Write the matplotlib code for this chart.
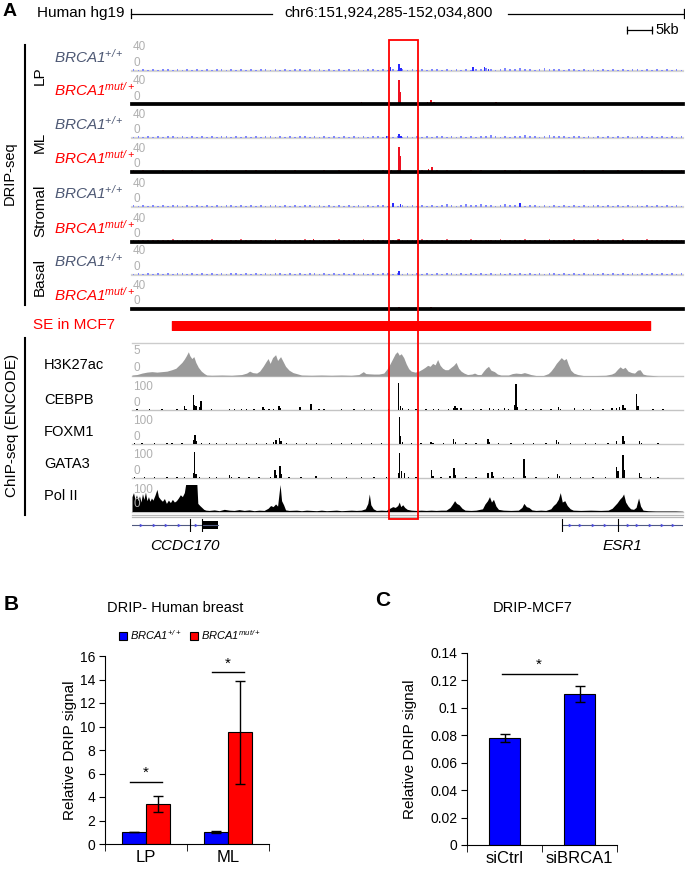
import numpy as np
import matplotlib
matplotlib.use("Agg")
import matplotlib.pyplot as plt
from matplotlib.patches import Rectangle
from matplotlib.lines import Line2D
import matplotlib.transforms as mtransforms

plt.rcParams['font.family'] = ['Liberation Sans', 'DejaVu Sans']
plt.rcParams['mathtext.fontset'] = 'custom'
plt.rcParams['mathtext.rm'] = 'Liberation Sans:italic'
plt.rcParams['mathtext.it'] = 'Liberation Sans:italic'
plt.rcParams['mathtext.bf'] = 'Liberation Sans:bold'

# ---------------- DATA ----------------
region_start, region_end = 151924285, 152034800
region_label = "chr6:151,924,285-152,034,800"
highlight_kb = [51.6, 57.3]
se_kb = [8.0, 103.8]
scale_bar_kb = [99.3, 104.3]

drip_groups = ["LP", "ML", "Stromal", "Basal"]
drip_ymax = 40

# (kb, signal) main peaks, DRIP tracks
lp_wt_peaks = [(51.8, 5), (53.6, 11), (54.0, 4), (68.4, 5), (70.7, 5), (71.5, 3)]
lp_mut_peaks = [(46.0, 3), (51.5, 3), (53.6, 38), (53.8, 20), (59.3, 4), (60.0, 7), (60.6, 4), (73.0, 3)]
ml_wt_peaks = [(51.0, 2), (53.6, 6), (54.0, 3)]
ml_mut_peaks = [(52.0, 3), (53.6, 40), (53.8, 25), (59.5, 5), (60.2, 8)]
st_wt_peaks = [(52.3, 6), (53.9, 4), (77.8, 6)]
st_mut_peaks = [(36.4, 5), (53.6, 4), (71.5, 3)]
ba_wt_peaks = [(53.6, 6)]
ba_mut_peaks = [(53.6, 3), (60.0, 3)]

# low background signal, one digit per ~1 kb bin
lp_wt_bg = "21312123121213121321213121231212132121312121312123121312121213212131212342134324321342321231213121312123121213121"
lp_mut_bg = "10201120102011021010201102011021010211020110201201020110210201102010210201120110201021102102010201102010201101020"
ml_wt_bg = "12131212312121312132121312123121213212131212131212312131212121321213121234213132432134232123121312131212312121312"
ml_mut_bg = "21210120102021120102101202110201021011020120102011020120110201202111021201102102110201120110201021020110201021012"
st_wt_bg = "21213121231212131213212131212312121321213121213121231213121212134213432432134232123121312131212312121312121312121"
st_mut_bg = "32323232423232334232324232332423232432323242323423233242323432324232343232342332423234323242323432324232343232323"
ba_wt_bg = "12121312123121213121321213121231212132121312121312123121312121213212131212121312131212312121312121312121312121212"
ba_mut_bg = "10101201020110102010201102010120101020110201010201102010102011020101020110201010201102010102011020101020110201010"

# H3K27ac signal (kb, value)
h3k27ac = [(0, 0.2), (1, 0.3), (2, 0.6), (3, 0.8), (4, 0.9), (5, 0.8), (6, 0.9), (7, 1.0), (8, 1.3),
           (8.8, 1.6), (9.4, 2.2), (10, 2.8), (10.5, 3.5), (10.9, 4.2), (11.3, 5.0), (11.6, 4.2),
           (12, 3.6), (12.4, 4.0), (12.8, 2.8), (13.3, 1.8), (13.9, 1.0), (14.5, 0.5), (15, 0.2),
           (16, 0.15), (18, 0.2), (20, 0.15), (22, 0.3), (23, 0.6), (23.6, 1.0), (24.2, 0.7), (25, 0.6),
           (25.6, 1.0), (26.3, 2.0), (26.9, 3.0), (27.3, 3.6), (27.7, 2.6), (28.2, 3.8), (28.8, 4.4),
           (29.2, 3.2), (29.8, 4.0), (30.3, 3.0), (30.8, 2.0), (31.5, 1.2), (32.3, 0.7), (33, 0.5),
           (34, 0.2), (36, 0.15), (38, 0.2), (40, 0.15), (42, 0.2), (44, 0.15), (45.5, 0.3), (46.4, 0.9),
           (46.9, 0.5), (47.6, 0.45), (48.5, 0.4), (49.5, 0.4), (50.5, 0.6), (51.2, 1.5), (51.8, 2.6),
           (52.3, 3.6), (52.8, 4.6), (53.2, 5.0), (53.6, 4.3), (54.0, 4.6), (54.5, 3.8), (55.0, 2.5),
           (55.5, 1.5), (56.0, 1.0), (56.8, 0.8), (57.5, 1.0), (58.2, 1.4), (58.8, 1.8), (59.3, 2.2),
           (59.8, 2.0), (60.3, 2.6), (60.8, 2.3), (61.3, 3.4), (61.8, 2.2), (62.3, 1.6), (62.8, 1.3),
           (63.4, 1.3), (64.0, 1.8), (64.5, 2.2), (65.0, 2.8), (65.5, 1.6), (66.0, 1.0), (66.6, 0.6),
           (67.3, 0.3), (68.2, 0.4), (68.7, 0.6), (69.3, 0.3), (70.0, 0.3), (70.5, 1.0), (71.0, 1.6),
           (71.5, 2.0), (72.0, 1.2), (72.7, 0.9), (73.3, 0.4), (74.0, 0.2), (75.5, 0.2), (76.3, 0.5),
           (77.0, 0.6), (78.0, 0.5), (78.7, 0.7), (79.4, 0.5), (80.0, 0.3), (81, 0.1), (82.5, 0.1),
           (83.5, 0.5), (84.0, 1.0), (84.6, 1.8), (85.1, 2.6), (85.6, 3.2), (86.1, 3.8), (86.6, 3.3),
           (87.1, 3.6), (87.5, 2.4), (88.0, 1.2), (88.6, 0.6), (89.4, 0.3), (90.5, 0.1), (93, 0.1),
           (95, 0.15), (96.2, 0.4), (96.8, 0.7), (97.4, 1.4), (97.9, 1.9), (98.4, 1.5), (98.9, 1.8),
           (99.5, 1.0), (100.2, 0.7), (100.8, 0.6), (101.4, 1.2), (101.9, 1.3), (102.5, 0.4),
           (103.2, 0.2), (104.5, 0.1), (105.5, 0.0)]

cebpb = [(1.0, 3), (3.5, 2), (6.0, 2), (9.0, 3), (10.5, 15), (10.8, 5), (12.3, 55), (12.5, 20), (12.8, 15),
         (13.6, 10), (13.8, 35), (14.0, 12), (16, 2), (19.5, 3), (20.5, 2), (22, 3), (23, 2), (24.5, 2),
         (26.3, 12), (26.6, 5), (27.5, 4), (28.4, 3), (29.5, 15), (29.8, 6), (33.7, 10), (35.9, 22),
         (37.5, 3), (38.5, 2), (42, 3), (44.5, 2), (46.6, 3), (48, 4), (51.5, 2), (53.5, 100), (53.8, 15),
         (54.2, 8), (55.5, 3), (57, 2), (59, 3), (60.5, 2), (61.5, 3), (63.5, 5), (64.5, 8), (64.8, 15),
         (65.2, 8), (66, 6), (68.5, 3), (70, 3), (71.7, 8), (72.5, 5), (73.5, 5), (74.7, 8), (75.5, 4),
         (76.8, 20), (77.0, 95), (77.3, 10), (79, 3), (80.5, 4), (82, 2), (84, 4), (85.5, 10), (85.9, 5),
         (88.8, 8), (90.5, 3), (92, 2), (94.5, 4), (96.3, 6), (97.2, 8), (97.8, 10), (98.5, 18),
         (98.9, 8), (101.2, 60), (101.5, 15), (104.5, 4), (106.5, 4)]
foxm1 = [(0.5, 3), (2, 2), (4.5, 2), (7, 3), (8, 2), (10, 3), (12.3, 15), (12.6, 35), (12.9, 10), (14, 3),
         (15.5, 2), (17, 3), (19, 2), (21, 3), (23, 2), (25, 3), (27, 2), (28.4, 8), (28.9, 15), (29.6, 22),
         (29.9, 10), (31, 3), (33, 3), (35, 2), (37, 3), (40, 2), (42, 3), (44, 2), (46, 2), (48, 3),
         (50, 2), (53.7, 100), (53.9, 30), (54.3, 8), (56, 3), (58, 4), (60, 8), (60.4, 4), (62.5, 3),
         (64.5, 20), (64.9, 8), (67, 3), (69, 3), (71.4, 20), (71.7, 8), (73.5, 4), (76, 3), (78.5, 3),
         (80.5, 3), (83, 3), (85.2, 15), (85.5, 6), (88, 3), (91, 3), (93, 2), (95.5, 3), (97.2, 10),
         (98.5, 28), (98.8, 10), (101.8, 10), (102.2, 5), (105.5, 2)]
gata3 = [(0.5, 3), (2.5, 4), (4.5, 3), (7, 3), (9, 3), (10.5, 3), (12.3, 20), (12.5, 100), (12.8, 15),
         (13.5, 5), (15.5, 2), (17, 3), (19.6, 10), (20, 4), (21.5, 3), (23.5, 3), (25.5, 4), (27.8, 5),
         (28.7, 30), (29.0, 10), (29.7, 45), (30.0, 15), (31.5, 3), (33.9, 5), (36.9, 6), (40, 2), (43, 3),
         (46, 3), (48.5, 3), (51, 3), (53.5, 20), (53.7, 95), (54.0, 25), (54.6, 20), (55.5, 5), (57, 3),
         (60.1, 30), (60.4, 8), (62, 3), (63.8, 8), (64.6, 38), (64.9, 10), (67, 3), (69, 3), (71.4, 20),
         (72.2, 22), (72.5, 8), (74.5, 3), (76.5, 3), (78.6, 72), (78.9, 8), (81, 3), (83.5, 3),
         (85.3, 15), (85.8, 6), (88, 3), (90, 3), (92.5, 3), (95, 3), (97.2, 40), (97.5, 25), (98.5, 88),
         (98.8, 30), (101.8, 18), (102.1, 5), (104, 3), (105.5, 3)]
polii = [(0, 55), (0.3, 70), (0.6, 45), (0.9, 62), (1.2, 40), (1.5, 58), (1.8, 35), (2.1, 66), (2.4, 45),
         (2.7, 72), (3.0, 40), (3.3, 55), (3.6, 38), (3.9, 50), (4.2, 42), (4.6, 60), (5.0, 82), (5.3, 55),
         (5.7, 45), (6.1, 38), (6.5, 48), (6.9, 30), (7.3, 42), (7.7, 33), (8.1, 45), (8.5, 35), (8.9, 40),
         (9.3, 50), (9.7, 62), (10.1, 55), (10.5, 70), (10.8, 105), (13.0, 105), (13.2, 30), (13.6, 22),
         (14.0, 15), (14.4, 8), (14.8, 5), (15.5, 4), (16.5, 6), (17.5, 3), (18.5, 8), (19.5, 5),
         (20.5, 4), (21.5, 7), (22.5, 4), (23.5, 6), (24.5, 3), (25.5, 5), (26.5, 4), (27.3, 12),
         (27.8, 22), (28.3, 18), (28.8, 28), (29.2, 20), (29.7, 100), (30.0, 40), (30.4, 25), (30.8, 6),
         (31.5, 4), (33, 5), (34, 3), (35, 5), (36, 4), (37, 3), (38, 5), (39, 3), (40, 4), (41, 5),
         (42, 3), (43, 4), (44, 5), (45, 4), (46, 5), (46.8, 10), (47.3, 30), (47.6, 65), (47.9, 25),
         (48.4, 10), (49, 4), (50, 5), (51, 4), (51.7, 12), (52.3, 18), (52.8, 15), (53.3, 22),
         (53.6, 35), (53.9, 18), (54.3, 25), (54.7, 15), (55.2, 8), (56, 5), (57, 4), (58, 5), (59, 4),
         (60, 5), (61, 4), (62, 5), (63, 5), (63.8, 15), (64.3, 28), (64.7, 40), (65.1, 30), (65.6, 25),
         (66.2, 12), (66.8, 5), (68, 4), (69, 5), (70.3, 10), (70.8, 28), (71.3, 40), (71.7, 55),
         (72.1, 35), (72.5, 45), (73, 20), (73.5, 8), (74.5, 5), (76, 4), (77.5, 5), (78.2, 15),
         (78.6, 30), (79.1, 18), (79.6, 15), (80.2, 6), (81, 4), (82, 5), (83, 4), (84, 10), (84.5, 22),
         (85, 30), (85.5, 45), (85.9, 70), (86.3, 35), (86.8, 40), (87.3, 22), (87.9, 10), (88.5, 5),
         (90, 4), (92, 5), (94, 4), (95.5, 5), (96.3, 12), (96.8, 22), (97.3, 32), (97.8, 45), (98.3, 55),
         (98.6, 65), (99, 35), (99.5, 20), (100, 10), (100.6, 8), (101.1, 15), (101.6, 50), (102, 20),
         (102.5, 5), (103.5, 3), (105, 2), (107, 2), (109, 2), (110.5, 1)]

# genes: (name, line start kb, line end kb, exon boxes, tick kb, arrow kb)
ccdc170 = dict(name="CCDC170", start=0.0, end=17.3, boxes=[(14.1, 17.3)], ticks=[11.7, 14.1],
               arrows=[1.8, 4.4, 6.8, 9.4, 12.9], label_kb=10.6)
esr1 = dict(name="ESR1", start=86.2, end=110.5, boxes=[], ticks=[86.2, 97.4],
            arrows=[87.8, 89.8, 92.4, 94.8, 99.5, 101.3, 103.9, 106.3, 108.5], label_kb=98.4)

# Panel B
groups_B = ["LP", "ML"]
wt_vals = [1.0, 1.0]
wt_err = [0.0, 0.1]
mut_vals = [3.4, 9.5]
mut_err = [0.7, 4.4]
sig_B = [5.3, 14.6]

# Panel C
groups_C = ["siCtrl", "siBRCA1"]
vals_C = [0.078, 0.110]
err_C = [0.003, 0.006]
sig_C = 0.1245

# ---------------- FIGURE ----------------
W, H = 685, 869
fig = plt.figure(figsize=(W / 100, H / 100), dpi=100)


def fx(x):
    return x / W


def fy(y):
    return 1 - y / H


def axes_px(x0, y0, x1, y1):
    return fig.add_axes([fx(x0), fy(y1), (x1 - x0) / W, (y1 - y0) / H])


def ftext(x, y, s, **kw):
    return fig.text(fx(x), fy(y), s, **kw)


def fline(xs, ys, **kw):
    fig.add_artist(Line2D([fx(v) for v in xs], [fy(v) for v in ys], transform=fig.transFigure, **kw))


region_kb = (region_end - region_start) / 1000.0
TX0, TX1 = 132, 683
GREY_LBL = '#b0b0b0'
WT_COL = '#4d5874'

# header
ftext(3, 11, "A", fontsize=14, fontweight='bold', va='center')
ftext(37, 13, "Human hg19", fontsize=11, va='center')
fline([131, 272], [13.5, 13.5], color='black', lw=0.9)
fline([131, 131], [9, 18], color='black', lw=0.9)
ftext(389, 13, region_label, fontsize=11, va='center', ha='center')
fline([508, 684], [13.5, 13.5], color='black', lw=0.9)
fline([684, 684], [9, 18], color='black', lw=0.9)

ax_sc = axes_px(TX0, 25, TX1, 35)
ax_sc.set_xlim(0, region_kb)
ax_sc.set_ylim(0, 1)
ax_sc.axis('off')
ax_sc.plot(scale_bar_kb, [0.5, 0.5], color='black', lw=0.9)
ax_sc.plot(scale_bar_kb, [0.5, 0.5], ls='none', marker='|', ms=6, color='black', mew=0.9)
ftext(655, 30, "5kb", fontsize=10.5, va='center')

# DRIP tracks
drip_tracks = [
    (lp_wt_peaks, lp_wt_bg, 'wt'), (lp_mut_peaks, lp_mut_bg, 'mut'),
    (ml_wt_peaks, ml_wt_bg, 'wt'), (ml_mut_peaks, ml_mut_bg, 'mut'),
    (st_wt_peaks, st_wt_bg, 'wt'), (st_mut_peaks, st_mut_bg, 'mut'),
    (ba_wt_peaks, ba_wt_bg, 'wt'), (ba_mut_peaks, ba_mut_bg, 'mut'),
]
drip_base = [70.5, 104, 137.7, 171.7, 206.7, 241.7, 274.5, 309]
ref_ax = None
for (peaks, bg, kind), base in zip(drip_tracks, drip_base):
    ax = axes_px(TX0, base - 28, TX1, base)
    ax.set_xlim(0, region_kb)
    ax.set_ylim(0, drip_ymax * 1.12)
    ax.axis('off')
    if ref_ax is None:
        ref_ax = ax
    col = '#2a2aff' if kind == 'wt' else '#ee1020'
    bgcol = '#7f86ff' if kind == 'wt' else '#f06070'
    bg_vals = [int(c) for c in bg]
    bg_pos = np.linspace(0.3, region_kb - 0.3, len(bg_vals))
    ax.bar(bg_pos, bg_vals, width=0.35, color=bgcol, lw=0, zorder=2)
    px_, pv_ = zip(*peaks)
    ax.bar(px_, pv_, width=0.3, color=col, lw=0, zorder=2)
    if kind == 'wt':
        ax.axhline(0, color='#d4d4d4', lw=1.6, zorder=1, clip_on=False)
        ftext(54, base - 14, "BRCA1$^{+/+}$", fontsize=11, style='italic', color=WT_COL, va='center')
    else:
        ax.axhline(0, color='black', lw=2.7, zorder=3, clip_on=False)
        ftext(54, base - 14, "BRCA1$^{mut/+}$", fontsize=11, style='italic', color='#ff0000', va='center')
    ftext(TX0 + 1, base - 23, "40", fontsize=8.5, color=GREY_LBL, va='center')
    ftext(TX0 + 2, base - 1.5, "0", fontsize=8.5, color=GREY_LBL, va='bottom')

for name, yc in zip(drip_groups, [76, 142, 211, 277]):
    ftext(40, yc, name, fontsize=11, rotation=90, ha='center', va='center')
ftext(10, 173, "DRIP-seq", fontsize=10.5, rotation=90, ha='center', va='center')
fline([25, 25], [45, 305], color='black', lw=1.5)

# Super-enhancer
ftext(33, 325, "SE in MCF7", fontsize=11, color='#ff0000', va='center')
ax_se = axes_px(TX0, 321, TX1, 329.5)
ax_se.set_xlim(0, region_kb)
ax_se.set_ylim(0, 1)
ax_se.axis('off')
ax_se.broken_barh([(se_kb[0], se_kb[1] - se_kb[0])], (0, 1), color='#ff0000')

fline([TX0, TX1], [342.7, 342.7], color='#cccccc', lw=1)

# ChIP tracks
chip_names = ["H3K27ac", "CEBPB", "FOXM1", "GATA3", "Pol II"]
chip_base = [376, 410, 444, 478, 511.5]
chip_top = [345, 381, 415, 449, 484.5]
chip_ymax = [6.4, 107, 107, 110, 100]
chip_top_lbl = ["5", "100", "100", "100", "100"]
chip_lbl_y = [365, 400, 432, 464, 496]
for i, name in enumerate(chip_names):
    ax = axes_px(TX0, chip_top[i], TX1, chip_base[i])
    ax.set_xlim(0, region_kb)
    ax.set_ylim(0, chip_ymax[i])
    ax.axis('off')
    if name == "H3K27ac":
        p, v = zip(*h3k27ac)
        ax.fill_between(p, v, 0, color='#9a9a9a', lw=0)
    elif name == "Pol II":
        p, v = zip(*polii)
        ax.fill_between(p, v, 0, color='black', lw=0)
    else:
        data = {"CEBPB": cebpb, "FOXM1": foxm1, "GATA3": gata3}[name]
        p, v = zip(*data)
        ax.bar(p, v, width=0.28, color='black', lw=0)
    ax.axhline(0, color='#c4c4c4', lw=1.0, clip_on=False, zorder=0)
    ftext(TX0 + 1, chip_top[i] + 6, chip_top_lbl[i], fontsize=8.5, color=GREY_LBL, va='center')
    ftext(TX0 + 2, chip_base[i] - 1.5, "0", fontsize=8.5, color=GREY_LBL, va='bottom')
    ftext(44, chip_lbl_y[i], name, fontsize=10.5, va='center')

ftext(12, 425, "ChIP-seq (ENCODE)", fontsize=11, rotation=90, ha='center', va='center')
fline([25, 25], [338, 515], color='black', lw=1.5)
fline([TX0, TX1], [514.5, 514.5], color='#b8b8b8', lw=0.9)
fline([TX0, TX1], [517.3, 517.3], color='#b8b8b8', lw=0.9)

# genes
ax_g = axes_px(TX0, 518, TX1, 532)
ax_g.set_xlim(0, region_kb)
ax_g.set_ylim(-1, 1)
ax_g.axis('off')
for g in (ccdc170, esr1):
    ax_g.plot([g['start'], g['end']], [0, 0], color='#505a80', lw=0.8)
    for b0, b1 in g['boxes']:
        ax_g.add_patch(Rectangle((b0, -0.55), b1 - b0, 1.1, color='black', lw=0))
    for t in g['ticks']:
        ax_g.plot([t, t], [-0.9, 0.9], color='black', lw=0.8)
    ax_g.plot(g['arrows'], [0] * len(g['arrows']), ls='none', marker='>', ms=2.5, color='#4a4ad8', mew=0)
    ax_g.text(g['label_kb'], -3.0, g['name'], fontsize=11, style='italic', ha='center', va='center',
              clip_on=False)

# highlight box
trans = mtransforms.blended_transform_factory(ref_ax.transData, fig.transFigure)
fig.add_artist(Rectangle((highlight_kb[0], fy(519)), highlight_kb[1] - highlight_kb[0], fy(40) - fy(519),
                         transform=trans, fill=False, ec='#ff0000', lw=1.3, zorder=10))

# ---------------- Panel B ----------------
ftext(4, 604, "B", fontsize=15, fontweight='bold', va='center')
ftext(175, 608, "DRIP- Human breast", fontsize=10.5, ha='center', va='center')
axB = axes_px(105, 656, 269, 844)
xB = np.arange(len(groups_B))
w = 0.29
ekw = dict(ecolor='black', elinewidth=1, capsize=3.5, capthick=1)
b1 = axB.bar(xB - w / 2, wt_vals, w, yerr=wt_err, color='#0000ff', edgecolor='black', lw=0.8,
             error_kw=ekw, label="BRCA1$^{+/+}$")
b2 = axB.bar(xB + w / 2, mut_vals, w, yerr=mut_err, color='#ff0000', edgecolor='black', lw=0.8,
             error_kw=ekw, label="BRCA1$^{mut/+}$")
for i, s in enumerate(sig_B):
    axB.plot([i - 0.2, i + 0.2], [s, s], color='black', lw=1)
    axB.text(i, s + 0.15, "*", ha='center', va='bottom', fontsize=11)
axB.set_xlim(-0.5, 1.5)
axB.set_ylim(0, 16)
axB.set_yticks(np.arange(0, 17, 2))
axB.set_xticks(xB)
axB.set_xticklabels(groups_B)
axB.set_xticks([-0.5, 0.5, 1.5], minor=True)
axB.tick_params(axis='x', which='major', length=0, pad=4, labelsize=12)
axB.tick_params(axis='x', which='minor', length=5, direction='out')
axB.tick_params(axis='y', length=4, labelsize=10, direction='out', pad=3)
for sname in ['top', 'right']:
    axB.spines[sname].set_visible(False)
axB.set_ylabel("Relative DRIP signal", fontsize=11)
axB.yaxis.set_label_coords(-0.17, 0.5)
axB.legend(handles=[b1, b2], loc='center', bbox_to_anchor=(fx(190), fy(635)), bbox_transform=fig.transFigure,
           ncol=2, frameon=False, handlelength=0.7, handleheight=0.7, handletextpad=0.25, columnspacing=0.8,
           prop={'size': 8, 'style': 'italic'}, borderaxespad=0)

# ---------------- Panel C ----------------
ftext(375, 601, "C", fontsize=15, fontweight='bold', va='center')
ftext(533, 608, "DRIP-MCF7", fontsize=10.5, ha='center', va='center')
axC = axes_px(467, 653, 617, 845)
xC = np.arange(len(groups_C))
axC.bar(xC, vals_C, 0.41, yerr=err_C, color='#0000ff', edgecolor='black', lw=0.8, error_kw=ekw)
axC.plot([-0.04, 0.96], [sig_C, sig_C], color='black', lw=1)
axC.text(0.46, sig_C + 0.0015, "*", ha='center', va='bottom', fontsize=11)
axC.set_xlim(-0.5, 1.5)
axC.set_ylim(0, 0.14)
ticksC = np.arange(0, 0.141, 0.02)
axC.set_yticks(ticksC)
axC.set_yticklabels([f"{v:g}" for v in np.round(ticksC, 2)])
axC.set_xticks(xC)
axC.set_xticklabels(groups_C)
axC.set_xticks([-0.5, 0.5, 1.5], minor=True)
axC.tick_params(axis='x', which='major', length=0, pad=4, labelsize=12)
axC.tick_params(axis='x', which='minor', length=5, direction='out')
axC.tick_params(axis='y', length=4, labelsize=10, direction='out', pad=3)
for sname in ['top', 'right']:
    axC.spines[sname].set_visible(False)
axC.set_ylabel("Relative DRIP signal", fontsize=11)
axC.yaxis.set_label_coords(-0.333, 0.5)

fig.savefig("out.png", dpi=100)
